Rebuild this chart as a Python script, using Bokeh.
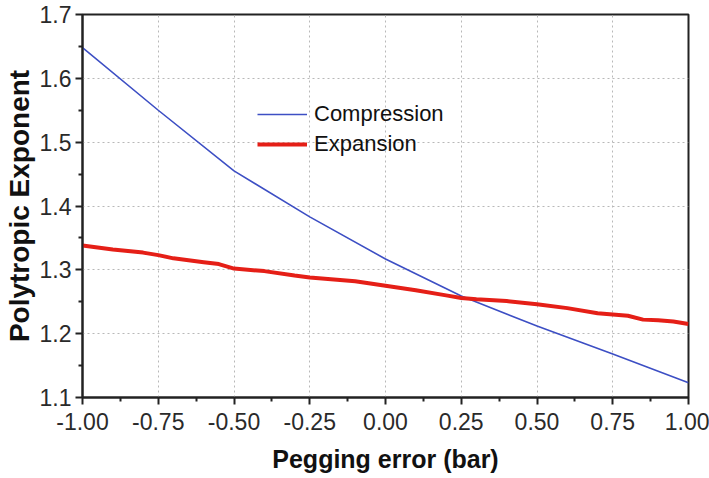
from bokeh.plotting import figure
from bokeh.models import Range1d, NumeralTickFormatter, FixedTicker, Legend, LegendItem
from bokeh.embed import file_html
from bokeh.resources import INLINE

comp_x = [-1.0, -0.75, -0.5, -0.25, 0.0, 0.25, 0.5, 0.75, 1.0]
comp_y = [1.648, 1.550, 1.455, 1.383, 1.317, 1.259, 1.212, 1.168, 1.123]

exp_x = [-1.0, -0.9, -0.8, -0.75, -0.7, -0.6, -0.55, -0.5, -0.4, -0.3, -0.25, -0.1,
         0.0, 0.1, 0.2, 0.25, 0.3, 0.4, 0.5, 0.6, 0.7, 0.8, 0.85, 0.9, 0.95, 1.0]
exp_y = [1.338, 1.332, 1.327, 1.323, 1.318, 1.312, 1.309, 1.302, 1.298, 1.291, 1.288, 1.282,
         1.275, 1.268, 1.260, 1.256, 1.254, 1.251, 1.246, 1.240, 1.232, 1.228, 1.222, 1.221, 1.219, 1.215]

x_ticks = [-1.0, -0.75, -0.5, -0.25, 0.0, 0.25, 0.5, 0.75, 1.0]
x_minor = [-0.875, -0.625, -0.375, -0.125, 0.125, 0.375, 0.625, 0.875]
y_ticks = [1.1, 1.2, 1.3, 1.4, 1.5, 1.6, 1.7]
y_minor = [1.15, 1.25, 1.35, 1.45, 1.55, 1.65]

FONT = "Liberation Sans"

p = figure(width=709, height=478, output_backend="svg", toolbar_location=None,
           x_range=Range1d(-1.0, 1.0), y_range=Range1d(1.1, 1.7),
           min_border_left=80, min_border_right=21, min_border_top=14, min_border_bottom=81)

p.outline_line_color = "#222222"
p.outline_line_width = 2

for ax in (p.xaxis[0], p.yaxis[0]):
    ax.axis_line_width = 2
    ax.axis_line_color = "#222222"
    ax.major_tick_line_width = 2
    ax.minor_tick_line_width = 2
    ax.major_tick_line_color = "#222222"
    ax.minor_tick_line_color = "#222222"
    ax.major_tick_out = 7
    ax.major_tick_in = 0
    ax.minor_tick_out = 4
    ax.minor_tick_in = 0
    ax.major_label_text_font = FONT
    ax.major_label_text_font_size = "23px"
    ax.major_label_text_color = "#2a2a2a"
    ax.axis_label_text_font = FONT
    ax.axis_label_text_font_style = "bold"
    ax.axis_label_text_color = "#111111"

p.xaxis.axis_label_text_font_size = "25px"
p.yaxis.axis_label_text_font_size = "28px"
p.xaxis.ticker = FixedTicker(ticks=x_ticks, minor_ticks=x_minor)
p.yaxis.ticker = FixedTicker(ticks=y_ticks, minor_ticks=y_minor)
p.xaxis.formatter = NumeralTickFormatter(format="0.00")
p.yaxis.formatter = NumeralTickFormatter(format="0.0")
p.xaxis.axis_label = "Pegging error (bar)"
p.yaxis.axis_label = "Polytropic Exponent"
p.xaxis.major_label_standoff = 8
p.yaxis.major_label_standoff = 4
p.xaxis.axis_label_standoff = 12
p.yaxis.axis_label_standoff = 2

p.grid.grid_line_color = "#b8b8b8"
p.grid.grid_line_dash = "2 3"
p.grid.grid_line_width = 1

r1 = p.line(comp_x, comp_y, line_color="#3d4fc4", line_width=1.6)
r2 = p.line(exp_x, exp_y, line_color="#e51f17", line_width=4)

legend = Legend(items=[LegendItem(label="Compression", renderers=[r1]),
                       LegendItem(label="Expansion", renderers=[r2])],
                location=(175, 240))
legend.background_fill_alpha = 0
legend.border_line_alpha = 0
legend.label_text_font = FONT
legend.label_text_font_size = "22px"
legend.label_text_color = "#111111"
legend.glyph_width = 50
legend.glyph_height = 24
legend.label_height = 24
legend.spacing = 4
legend.padding = 0
legend.margin = 0
legend.label_standoff = 7
p.add_layout(legend, "center")

open("out.html", "w").write(file_html(p, INLINE))
